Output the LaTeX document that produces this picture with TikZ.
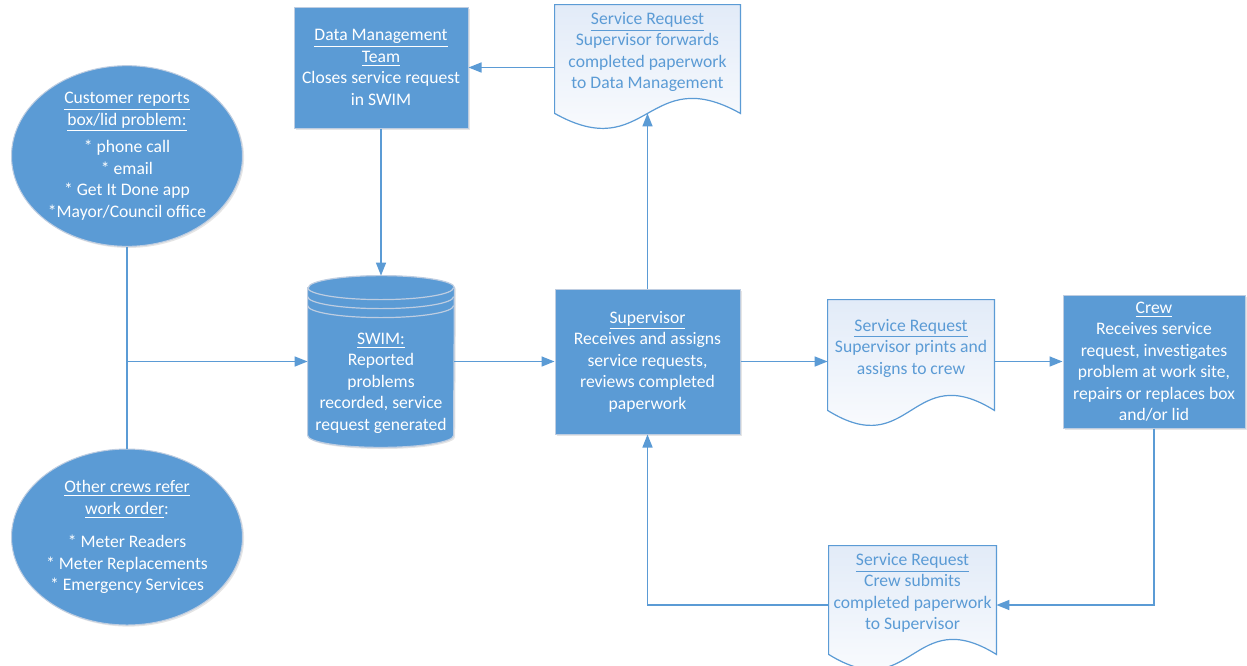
\documentclass[tikz,border=0pt]{standalone}
\usepackage{fontspec}
\setmainfont{Carlito}
\usepackage{tikz}
\usetikzlibrary{shapes}
\usetikzlibrary{arrows.meta}
\usetikzlibrary{positioning}
\usetikzlibrary{shadows}
\usetikzlibrary{backgrounds}

\definecolor{procblue}{RGB}{91,155,213}
\definecolor{procedge}{RGB}{190,205,225}
\definecolor{docfill}{RGB}{226,235,248}

\begin{document}
\begin{tikzpicture}[x=0.5pt,y=-0.5pt,
  font=\fontsize{8.8}{10.75}\selectfont,
  proc/.style={rectangle,fill=procblue,draw=procedge,line width=0.5pt,text=white,align=center,inner sep=0pt,
    drop shadow={opacity=0.2,shadow xshift=0.8pt,shadow yshift=-0.8pt}},
  source/.style={proc,ellipse},
  srdoc/.style={align=center,text=procblue,inner sep=0pt},
  flow/.style={draw=procblue,line width=0.75pt,-{Triangle[length=6.5pt,width=5pt]}},
  link/.style={draw=procblue,line width=0.75pt}]
  \useasboundingbox (0,0) rectangle (1247,665);

  \node[source,minimum width=115.5pt,minimum height=88pt] (cust) at (127,156)
    {\underline{Customer reports}\\\underline{box/lid problem:}\\[3pt]* phone call\\* email\\* Get It Done app\\*Mayor/Council office};
  \node[source,minimum width=115.5pt,minimum height=88pt] (other) at (127,537)
    {\underline{Other crews refer}\\\underline{work order}:\\[6pt]* Meter Readers\\* Meter Replacements\\* Emergency Services};
  \node[proc,minimum width=87pt,minimum height=60.5pt] (dmt) at (381,67.5)
    {\underline{Data Management}\\\underline{Team}\\Closes service request\\in SWIM};
  \node[srdoc,text=white,minimum width=73pt,minimum height=64pt] (swim) at (381,383)
    {\underline{SWIM:}\\Reported\\problems\\recorded, service\\request generated};
  \node[proc,minimum width=92.5pt,minimum height=72.5pt] (sup) at (647.5,361.5)
    {\underline{Supervisor}\\Receives and assigns\\service requests,\\reviews completed\\paperwork};
  \node[srdoc,minimum width=92.5pt,minimum height=47pt] (srtop) at (647.5,52)
    {\underline{Service Request}\\Supervisor forwards\\completed paperwork\\to Data Management};
  \node[srdoc,minimum width=83pt,minimum height=48pt] (srmid) at (911,348)
    {\underline{Service Request}\\Supervisor prints and\\assigns to crew};
  \node[proc,minimum width=91pt,minimum height=66.5pt] (crew) at (1154,361.5)
    {\underline{Crew}\\Receives service\\request, investigates\\problem at work site,\\repairs or replaces box\\and/or lid};
  \node[srdoc,minimum width=83.5pt,minimum height=47pt] (srbot) at (912.5,593)
    {\underline{Service Request}\\Crew submits\\completed paperwork\\to Supervisor};
  \coordinate (jn) at (cust |- sup);

  \begin{scope}[on background layer]
    \fill[white] (0,0) rectangle (1247,665);
    \foreach \d in {srtop,srmid,srbot}
      \draw[procblue,line width=0.6pt,top color=docfill,bottom color=white]
        (\d.north west) -- ([yshift=-7pt]\d.south west)
        .. controls ([yshift=-33pt]\d.south) and ([yshift=19pt]\d.south) ..
        ([yshift=-7pt]\d.south east) -- (\d.north east) -- cycle;
    \draw[fill=procblue,draw=procedge,line width=0.6pt,
      drop shadow={opacity=0.2,shadow xshift=0.8pt,shadow yshift=-0.8pt}]
      ([yshift=15.5pt]swim.north west) -- ([yshift=6pt]swim.south west)
      arc[start angle=180,end angle=360,x radius=36.5pt,y radius=6pt]
      -- ([yshift=15.5pt]swim.north east)
      arc[start angle=0,end angle=180,x radius=36.5pt,y radius=6pt] -- cycle;
    \foreach \s in {15.5,11,6.5}
      \draw[procedge,line width=0.6pt] ([yshift=\s pt]swim.north west)
        arc[start angle=180,end angle=360,x radius=36.5pt,y radius=6pt];
  \end{scope}

  \draw[link] (cust) -- (other);
  \draw[flow] (jn) -- (swim.west |- jn);
  \draw[flow] (dmt) -- ([yshift=21.5pt]swim.north);
  \draw[flow] (swim.east |- sup) -- (sup);
  \draw[flow] (sup) -- ([yshift=-7pt]srtop.south);
  \draw[flow] (srtop.west |- dmt) -- (dmt);
  \draw[flow] (sup) -- (srmid.west |- sup);
  \draw[flow] (srmid.east |- crew) -- (crew);
  \draw[flow] (crew) |- ([yshift=-6pt]srbot.east);
  \draw[flow] ([yshift=-6pt]srbot.west) -| (sup);
\end{tikzpicture}
\end{document}
